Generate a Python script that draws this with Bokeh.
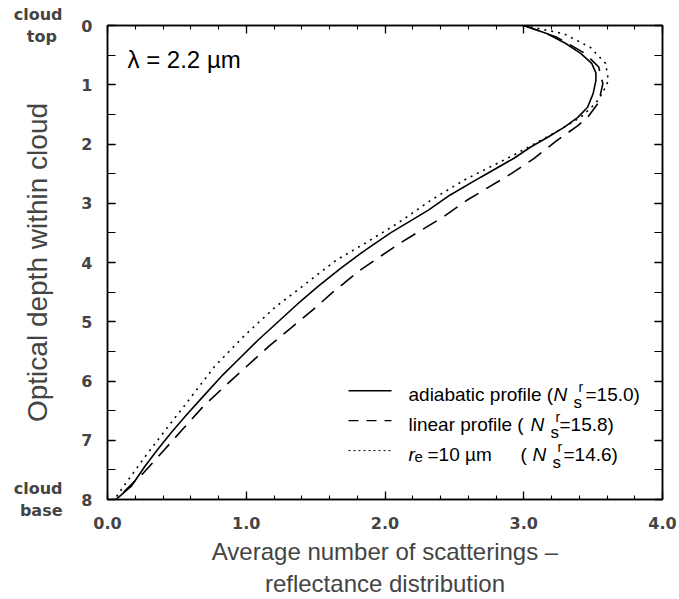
from bokeh.plotting import figure
from bokeh.models import Range1d, LinearAxis, FixedTicker, Label, Arrow, PrintfTickFormatter
from bokeh.embed import file_html
from bokeh.resources import INLINE

# ---------------- data ----------------
x_ticks = [0, 1, 2, 3, 4]
y_ticks = [0, 1, 2, 3, 4, 5, 6, 7, 8]

# adiabatic profile (solid)
tau_adi = [0.0, 0.14, 0.3, 0.47, 0.64, 0.8, 0.93, 1.15, 1.38, 1.55, 1.72, 1.89, 2.05, 2.24,
           2.56, 2.86, 3.12, 3.5, 3.82, 4.1, 4.4, 4.7, 5.0, 5.3, 5.6, 5.9, 6.26, 6.57,
           6.87, 7.16, 7.44, 7.78, 7.98]
n_adi = [3.0, 3.17, 3.3, 3.41, 3.49, 3.52, 3.52, 3.5, 3.46, 3.39, 3.29, 3.17, 3.05, 2.93,
         2.69, 2.47, 2.31, 2.04, 1.84, 1.68, 1.52, 1.37, 1.23, 1.09, 0.96, 0.83, 0.69, 0.57,
         0.46, 0.36, 0.27, 0.17, 0.07]

# linear profile (dashed)
tau_lin = [0.0, 0.2, 0.47, 0.7, 0.98, 1.3, 1.55, 1.69, 1.94, 2.25, 2.5, 2.95, 3.23,
           3.67, 4.13, 4.51, 4.8, 5.09, 5.42, 5.76, 6.1, 6.43, 6.82, 7.16, 7.55, 8.0]
n_lin = [3.0, 3.24, 3.44, 3.54, 3.57, 3.54, 3.46, 3.39, 3.24, 3.07, 2.91, 2.59, 2.42,
         2.11, 1.82, 1.62, 1.48, 1.33, 1.16, 1.0, 0.84, 0.69, 0.54, 0.41, 0.26, 0.06]

# r_e = 10 um (dotted)
tau_re = [0.0, 0.14, 0.37, 0.64, 0.93, 1.13, 1.31, 1.55, 1.8, 2.16, 2.61, 2.95, 3.34,
          3.67, 3.96, 4.41, 4.75, 5.25, 5.76, 6.43, 6.82, 7.28, 7.83, 8.0]
n_re = [3.0, 3.29, 3.48, 3.59, 3.61, 3.57, 3.52, 3.41, 3.23, 2.95, 2.57, 2.33, 2.09,
        1.86, 1.65, 1.40, 1.21, 0.98, 0.77, 0.55, 0.42, 0.27, 0.1, 0.05]

# ---------------- layout ----------------
W, H = 679, 599
L, R, T, B = 107, 662, 25, 500
X0, X1, Y0, Y1 = 0, 4, 0, 8

def dx(px):
    return X0 + (px - L) / (R - L) * (X1 - X0)

def dy(py):
    return Y0 + (py - T) / (B - T) * (Y1 - Y0)

p = figure(width=W, height=H, x_range=Range1d(X0, X1), y_range=Range1d(Y1, Y0),
           output_backend="svg", toolbar_location=None,
           min_border_left=L, min_border_right=W - R, min_border_top=T, min_border_bottom=H - B)
p.xgrid.visible = False
p.ygrid.visible = False
p.outline_line_color = "black"
p.outline_line_width = 1.5
p.background_fill_color = "white"
p.border_fill_color = "white"

x_minor = [i * 0.2 for i in range(21)]
y_minor = [i * 0.5 for i in range(17)]

def style_axis(ax, ticker, minor_len, show_labels):
    ax.ticker = ticker
    ax.axis_line_color = "black"
    ax.axis_line_width = 1.5
    ax.major_tick_in = 8
    ax.major_tick_out = 0
    ax.minor_tick_in = minor_len
    ax.minor_tick_out = 0
    ax.major_tick_line_width = 1.3
    ax.minor_tick_line_width = 1.1
    ax.major_tick_line_color = "black"
    ax.minor_tick_line_color = "black"
    if not show_labels:
        ax.major_label_text_color = None
        ax.major_label_text_font_size = "1px"
        ax.major_label_standoff = 0

xb = p.xaxis[0]
style_axis(xb, FixedTicker(ticks=x_ticks, minor_ticks=x_minor), 4, True)
xb.formatter = PrintfTickFormatter(format="%.1f")
xb.major_label_text_font = "DejaVu Sans"
xb.major_label_text_font_style = "bold"
xb.major_label_text_font_size = "16px"
xb.major_label_standoff = 17
xb.axis_label = "Average number of scatterings –\nreflectance distribution"
xb.axis_label_text_font = "Liberation Sans"
xb.axis_label_text_font_style = "normal"
xb.axis_label_text_font_size = "24px"
xb.axis_label_standoff = 6

yl = p.yaxis[0]
style_axis(yl, FixedTicker(ticks=y_ticks, minor_ticks=y_minor), 8, True)
yl.major_label_text_font = "DejaVu Sans"
yl.major_label_text_font_style = "bold"
yl.major_label_text_font_size = "16px"
yl.major_label_standoff = 15

# outer left axis: cloud top / cloud base marks and the axis title
yc = LinearAxis(ticker=FixedTicker(ticks=[0, 8]))
yc.axis_line_color = None
yc.major_tick_line_color = None
yc.minor_tick_line_color = None
yc.major_tick_in = 0
yc.major_tick_out = 0
yc.major_label_overrides = {0: "cloud\ntop\u00a0", 8: "cloud\nbase"}
yc.major_label_text_font = "DejaVu Sans"
yc.major_label_text_font_style = "bold"
yc.major_label_text_font_size = "16px"
yc.major_label_standoff = 16
yc.axis_label = "Optical depth within cloud"
yc.axis_label_text_font = "Liberation Sans"
yc.axis_label_text_font_style = "normal"
yc.axis_label_text_font_size = "28px"
yc.axis_label_standoff = -42
p.add_layout(yc, "left")

xt = LinearAxis()
style_axis(xt, FixedTicker(ticks=x_ticks, minor_ticks=x_minor), 4, False)
p.add_layout(xt, "above")
yr = LinearAxis()
style_axis(yr, FixedTicker(ticks=y_ticks, minor_ticks=y_minor), 8, False)
p.add_layout(yr, "right")

# ---------------- curves ----------------
p.line(n_adi, tau_adi, line_color="black", line_width=1.6)
p.line(n_lin, tau_lin, line_color="black", line_width=1.6, line_dash="16 9")
p.line(n_re, tau_re, line_color="black", line_width=1.6, line_dash="2 5")

# ---------------- texts inside the frame ----------------
SANS = "Liberation Sans"

def lab(px, py, text, size, font=SANS, style="normal", align="left", baseline="alphabetic"):
    p.add_layout(Label(x=dx(px), y=dy(py), text=text, text_font=font, text_font_size=f"{size}px",
                       text_font_style=style, text_align=align, text_baseline=baseline,
                       text_color="black"))

lab(127, 59, "λ = 2.2 µm", 24)

# legend
rows = [(395, "solid", 553, 32), (425, "dash", 530, 29), (455, "dot", 532, 31)]
row_text = {"solid": "adiabatic profile (", "dash": "linear profile ("}
row_val = {"solid": "=15.0)", "dash": "=15.8)", "dot": "=14.6)"}
dashes = {"solid": "solid", "dash": "10 8", "dot": "2 3"}
for base, kind, nx, voff in rows:
    ly = base - 4
    p.add_layout(Arrow(x_start=dx(348), y_start=dy(ly), x_end=dx(391), y_end=dy(ly),
                       start=None, end=None, line_color="black",
                       line_width=1.4 if kind != "dot" else 1.0, line_dash=dashes[kind]))
    if kind in row_text:
        lab(408, base, row_text[kind], 19)
    else:
        lab(408, base, "r", 19, style="italic")
        lab(414, base + 2, "e", 15)
        lab(427, base, "=10 µm", 19)
        lab(520, base, "(", 19)
    lab(nx, base, "N", 19, style="italic")
    lab(nx + 25, base - 8, "r", 14)
    lab(nx + 20, base + 8, "s", 17)
    lab(nx + voff, base, row_val[kind], 19)

open("out.html", "w").write(file_html(p, INLINE))
